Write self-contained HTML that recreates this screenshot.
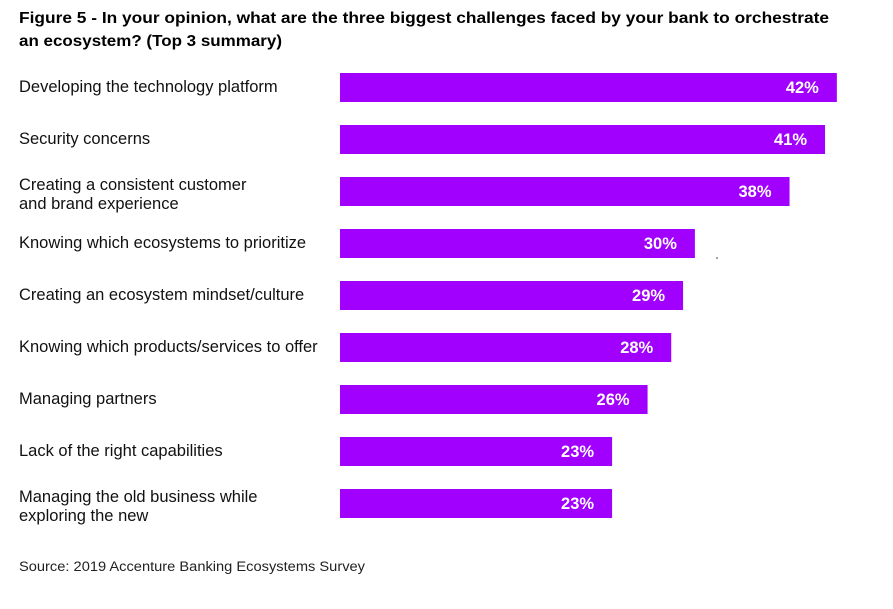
<!DOCTYPE html>
<html><head><meta charset="utf-8"><style>
body{margin:0;background:#fff;}
svg{display:block;font-family:"Liberation Sans",sans-serif;}
</style></head><body>
<svg id="chart" width="893" height="609" viewBox="0 0 893 609" xmlns="http://www.w3.org/2000/svg">
<text x="19" y="23" font-size="16" font-weight="bold" fill="#000" textLength="810" lengthAdjust="spacingAndGlyphs">Figure 5 - In your opinion, what are the three biggest challenges faced by your bank to orchestrate</text>
<text x="19" y="46" font-size="16" font-weight="bold" fill="#000" textLength="263" lengthAdjust="spacingAndGlyphs">an ecosystem? (Top 3 summary)</text>
<g id="bars"></g>
<circle cx="717" cy="258" r="0.8" fill="#333"/>
<text x="19" y="571" font-size="13.5" fill="#222" textLength="346" lengthAdjust="spacingAndGlyphs">Source: 2019 Accenture Banking Ecosystems Survey</text>
</svg>
<script>
const categories = [
  ["Developing the technology platform"],
  ["Security concerns"],
  ["Creating a consistent customer","and brand experience"],
  ["Knowing which ecosystems to prioritize"],
  ["Creating an ecosystem mindset/culture"],
  ["Knowing which products/services to offer"],
  ["Managing partners"],
  ["Lack of the right capabilities"],
  ["Managing the old business while","exploring the new"]
];
const values = [42,41,38,30,29,28,26,23,23];
const valueLabels = ["42%","41%","38%","30%","29%","28%","26%","23%","23%"];

const NS="http://www.w3.org/2000/svg";
const g=document.getElementById('bars');
const x0=340, pxPer=11.83, top0=73, step=52, bh=29;
function xScale(v){return x0+v*pxPer;}
function yBand(i){return top0+i*step;}
values.forEach((v,i)=>{
  const y=yBand(i);
  const r=document.createElementNS(NS,'rect');
  r.setAttribute('x',x0);r.setAttribute('y',y);
  r.setAttribute('width',xScale(v)-x0);r.setAttribute('height',bh);
  r.setAttribute('fill','#a100ff');
  
  
  g.appendChild(r);
  const t=document.createElementNS(NS,'text');
  t.setAttribute('x',xScale(v)-18);t.setAttribute('y',y+20);
  t.setAttribute('text-anchor','end');t.setAttribute('font-size','16.5');
  t.setAttribute('font-weight','bold');t.setAttribute('fill','#fff');
  t.textContent=valueLabels[i];
  
  
  g.appendChild(t);
  const lines=categories[i];
  lines.forEach((ln,j)=>{
    const c=document.createElementNS(NS,'text');
    const cy=lines.length===1? y+19 : y+13+j*19;
    c.setAttribute('x',19);c.setAttribute('y',cy);
    c.setAttribute('font-size','16.5');c.setAttribute('fill','#111');
    c.textContent=ln;
    
    
    g.appendChild(c);
  });
});
</script>
</body></html>
